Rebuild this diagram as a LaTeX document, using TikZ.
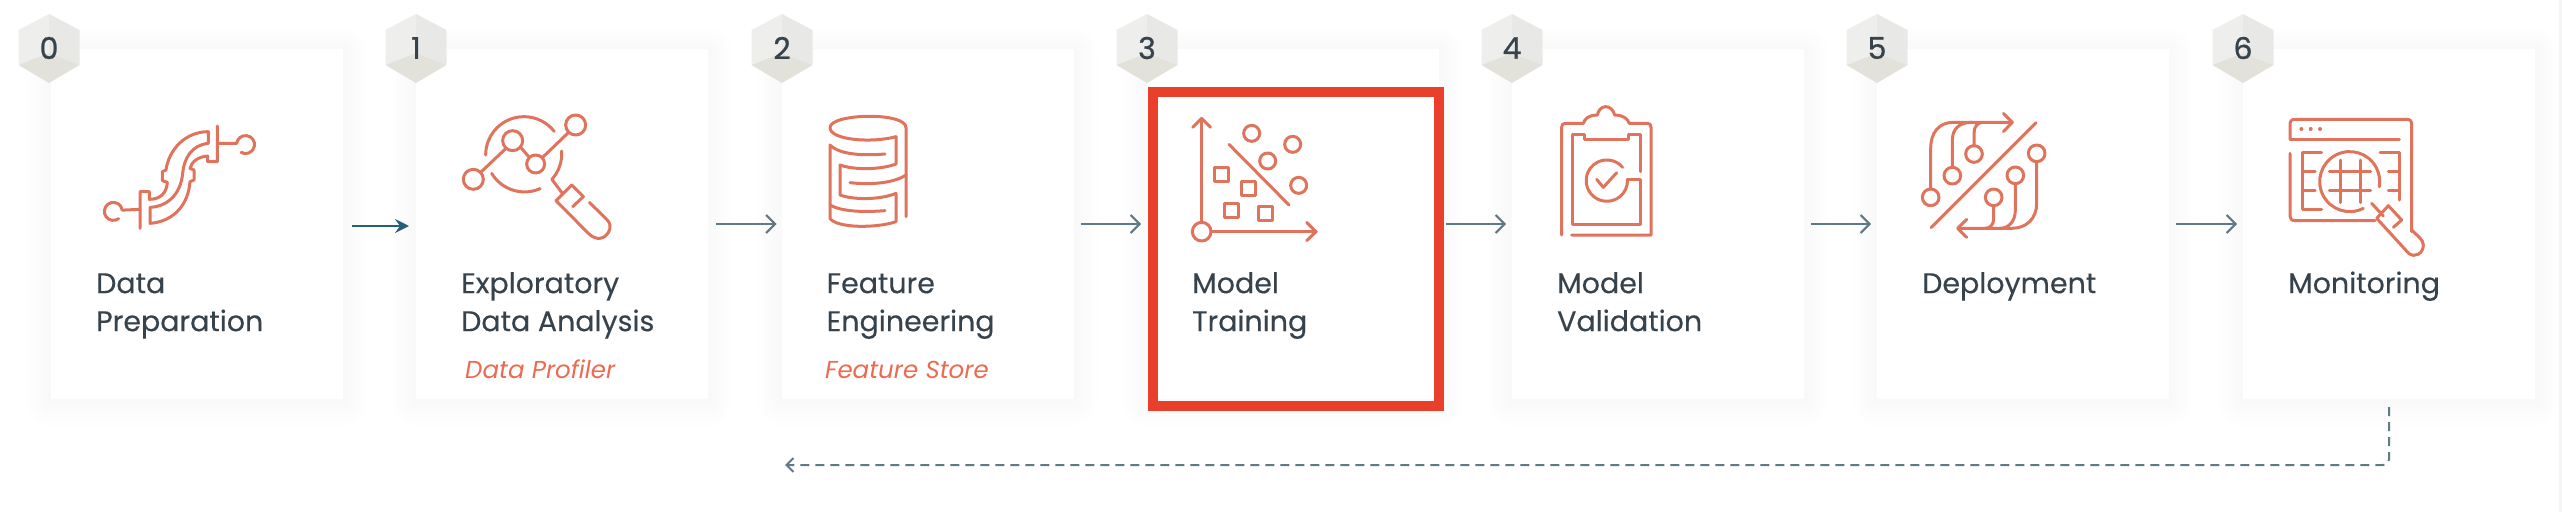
\documentclass[tikz,border=0pt]{standalone}
\usepackage{fontspec}
\usetikzlibrary{arrows.meta,calc}
\setmainfont{Poppins}[FakeBold=0.25]
\newfontfamily\numfont{Poppins}[FakeBold=0.9]
\newfontfamily\italfont{Poppins}
\definecolor{icon}{HTML}{E0735C}
\definecolor{ink}{HTML}{36434D}
\definecolor{sub}{HTML}{EC6A50}
\definecolor{redbox}{HTML}{E8402A}
\definecolor{flow}{HTML}{5F7985}
\definecolor{firstflow}{HTML}{25607B}
\definecolor{hexl}{HTML}{EEEEEC}
\definecolor{hexr}{HTML}{E8E9E7}
\definecolor{hexb}{HTML}{E2E2DB}
\newcommand\firstline{\rule{0pt}{24pt}}
\tikzset{
  card/.style={fill=white,inner sep=0pt,outer sep=0pt,minimum width=292pt,minimum height=350pt,anchor=north west},
  numtext/.style={font=\numfont\fontsize{30}{32}\selectfont,text=ink,inner sep=0pt},
  label/.style={font=\fontsize{28.5}{38}\selectfont,text=ink,align=left,inner sep=0pt,anchor=north west},
  sublabel/.style={font=\italfont\itshape\fontsize{24.5}{30}\selectfont,text=sub,inner sep=0pt,anchor=base west},
  flowline/.style={draw=flow,line width=2pt,-{Straight Barb[length=9pt,width=18pt,line width=2pt]}},
  iconline/.style={draw=icon,line width=3pt,line cap=round,line join=round},
  zoomed/.style={x=0.33333pt,y=-0.33333pt}
}
\begin{document}
\begin{tikzpicture}[x=1pt,y=-1pt]
\useasboundingbox (0,0) rectangle (2562,512);
\fill[white] (0,0) rectangle (2562,512);
\fill[black!4] (2559,0) rectangle (2562,512);
% soft shadows
\foreach \x in {51,416,781.5,1147,1512,1877,2243}{
  \foreach \k in {4,8,...,24}{
    \fill[black!40,opacity=.007,rounded corners=\k pt] (\x-\k,49-\k+3) rectangle (\x+292+\k,399+\k+3);
  }
}
% cards
\node[card] (c0) at (51,49) {};
\node[card] (c1) at (416,49) {};
\node[card] (c2) at (781.5,49) {};
\node[card] (c3) at (1147,49) {};
\node[card] (c4) at (1512,49) {};
\node[card] (c5) at (1877,49) {};
\node[card] (c6) at (2243,49) {};
% numbered hexagons
\foreach \n/\x in {0/49,1/416,2/782,3/1147,4/1512,5/1877,6/2243}{
  \fill[hexl] (\x,14) -- (\x-30.5,30) -- (\x-30.5,65) -- (\x,53) -- cycle;
  \fill[hexr] (\x,14) -- (\x+30.5,30) -- (\x+30.5,65) -- (\x,53) -- cycle;
  \fill[hexb] (\x,53) -- (\x-30.5,65) -- (\x,83) -- (\x+30.5,65) -- cycle;
  \node[numtext] (h\n) at (\x,48) {\n};
}
% labels
\node[label] (t0) at (96,269) {\firstline Data\\Preparation};
\node[label] (t1) at (461,269) {\firstline Exploratory\\Data Analysis};
\node[sublabel] (s1) at (465,378) {Data Profiler};
\node[label] (t2) at (826.5,269) {\firstline Feature\\Engineering};
\node[sublabel] (s2) at (825,378) {Feature Store};
\node[label] (t3) at (1192,269) {\firstline Model\\Training};
\node[label] (t4) at (1557,269) {\firstline Model\\Validation};
\node[label] (t5) at (1922,269) {\firstline Deployment};
\node[label] (t6) at (2288,269) {\firstline Monitoring};
% red highlight
\node[draw=redbox,line width=10pt,inner sep=0pt,outer sep=0pt,minimum width=286pt,minimum height=314pt,anchor=north west] (hl) at (1153,92) {};
% connectors
\draw[draw=firstflow,line width=2pt,-{Stealth[length=14pt,width=14pt,inset=5pt]},shorten <=9pt,shorten >=7pt] ([yshift=-2pt]c0.east) -- ([yshift=-2pt]c1.west);
\draw[flowline,shorten <=8pt,shorten >=5pt] (c1.east) -- (c2.west);
\draw[flowline,shorten <=7pt,shorten >=6pt] (c2.east) -- (c3.west);
\draw[flowline,shorten <=7pt,shorten >=6pt] (c3.east) -- (c4.west);
\draw[flowline,shorten <=7pt,shorten >=6pt] (c4.east) -- (c5.west);
\draw[flowline,shorten <=7pt,shorten >=6pt] (c5.east) -- (c6.west);
\coordinate (backend) at (785,465);
\draw[draw=flow,line width=2pt,dash pattern=on 9pt off 6pt,rounded corners=6pt,-{Straight Barb[length=7pt,width=14pt,line width=2pt]},shorten <=8pt] (c6.south) |- (backend);
% icon 0
\begin{scope}[shift={(60,90)},zoomed,iconline]
\draw (176,386) arc[start angle=54,end angle=352,radius=27] -- (240,358);
\draw (240,415) -- (240,305) -- (268,305) -- (268,328) .. controls (300,328) and (320,310) .. (322,277) -- (307,272) -- (307,245) -- (318,240) .. controls (326,180) and (375,125) .. (445,125) -- (445,160) .. controls (395,165) and (372,205) .. (368,250) .. controls (362,315) and (320,350) .. (270,352) -- (270,400) .. controls (340,395) and (385,345) .. (390,275) -- (402,270) -- (402,240) -- (390,235) .. controls (395,215) and (415,200) .. (443,198) -- (443,215) -- (472,215) -- (472,108);
\draw (472,160) -- (530,160) arc[start angle=188,end angle=480,radius=27];
\end{scope}
% icon 1
\begin{scope}[shift={(430,90)},zoomed,iconline]
\draw (130,268) circle[radius=30];
\draw (248,152) circle[radius=30];
\draw (317,222) circle[radius=27];
\draw (437,105) circle[radius=30];
\draw (152,247) -- (225,178);
\draw (272,172) -- (296,200);
\draw (338,202) -- (415,128);
\draw (167,195) arc[start angle=180,end angle=322,radius=115];
\draw (185,250) arc[start angle=149,end angle=66,radius=115];
\draw (395,183) arc[start angle=-4,end angle=42,radius=115] -- (397,310);
\draw (378,332) -- (425,285) -- (460,320) -- (428,350);
\draw (378,332) -- (475,430) .. controls (500,455) and (525,445) .. (535,428) .. controls (545,410) and (540,398) .. (530,388) -- (478,337);
\end{scope}
% icon 2
\begin{scope}[shift={(800,90)},zoomed,iconline]
\draw (288,140) .. controls (215,160) and (90,150) .. (90,113) .. controls (90,70) and (318,65) .. (318,113) -- (318,380);
\draw (288,140) -- (288,222) .. controls (240,240) and (160,240) .. (120,225) -- (120,315) .. controls (160,330) and (240,330) .. (288,310) -- (288,395) .. controls (230,415) and (110,415) .. (90,385) -- (90,165) .. controls (120,195) and (190,197) .. (255,192);
\draw (90,345) .. controls (125,365) and (190,367) .. (255,362);
\draw (150,278) .. controls (210,285) and (280,280) .. (318,255);
\end{scope}
% icon 3
\begin{scope}[shift={(1170,90)},zoomed,iconline]
\draw (95,425) circle[radius=28];
\draw (95,397) -- (95,85);
\draw (68,112) -- (95,85) -- (122,112);
\draw (123,425) -- (438,425);
\draw (410,397) -- (438,425) -- (410,452);
\draw (177,163) -- (357,345);
\foreach \p in {(245,130),(368,163),(293,213),(386,286)}{\draw \p circle[radius=24];}
\draw (133,231) rectangle (175,273);
\draw (214,275) rectangle (256,317);
\draw (163,340) rectangle (205,382);
\draw (266,350) rectangle (308,392);
\end{scope}
% icon 4
\begin{scope}[shift={(1540,90)},zoomed,iconline]
\draw (65,435) -- (65,112) .. controls (65,104) and (68,100) .. (76,100) -- (130,100) .. controls (135,85) and (145,76) .. (172,75) .. controls (175,60) and (185,50) .. (197,50) .. controls (210,50) and (220,60) .. (224,75) .. controls (250,76) and (262,85) .. (268,100) -- (322,100) .. controls (330,100) and (333,104) .. (333,112) -- (333,435) -- (95,435);
\draw (300,245) -- (300,133) -- (265,133) -- (265,148) -- (132,148) -- (132,133) -- (97,133) -- (97,403) -- (300,403) -- (300,268) -- (262,268);
\draw (248,232) arc[start angle=-40,end angle=-360,radius=62] -- (262,268);
\draw (170,268) -- (190,292) -- (230,248);
\end{scope}
% icon 5
\begin{scope}[shift={(1900,90)},zoomed,iconline]
\draw (310,70) -- (337,97) -- (310,125);
\draw (337,97) -- (160,97) .. controls (115,97) and (92,130) .. (92,175) -- (92,297);
\draw (215,97) .. controls (175,97) and (157,120) .. (157,150) -- (157,232);
\draw (250,97) .. controls (232,97) and (222,110) .. (222,130) -- (222,167);
\foreach \p in {(92,322),(157,257),(222,192),(410,190),(346,256),(281,322)}{\draw \p circle[radius=25];}
\draw (93,413) -- (408,98);
\draw (410,215) -- (410,340) .. controls (410,385) and (380,415) .. (335,415) -- (175,415);
\draw (346,281) -- (346,360) .. controls (346,395) and (325,415) .. (300,415);
\draw (281,347) -- (281,385) .. controls (281,405) and (270,415) .. (255,415);
\draw (200,388) -- (173,415) -- (200,442);
\end{scope}
% icon 6
\begin{scope}[shift={(2260,90)},zoomed,iconline]
\draw (90,147) -- (90,103) .. controls (90,93) and (95,88) .. (105,88) -- (440,88) .. controls (450,88) and (455,93) .. (455,103) -- (455,425);
\draw (90,147) -- (418,147);
\foreach \p in {(124,117),(152,117),(180,117)}{\fill[icon] \p circle[radius=6];}
\draw (90,190) -- (90,375) .. controls (90,387) and (95,392) .. (105,392) -- (345,392);
\draw (185,188) -- (127,188) -- (127,358) -- (185,358);
\draw (127,245) -- (165,245);
\draw (127,300) -- (165,300);
\draw (360,188) -- (418,188) -- (418,330);
\draw (385,245) -- (418,245);
\draw (385,300) -- (418,300);
\draw (310,355) arc[start angle=63,end angle=370,radius=90];
\draw (240,210) -- (240,338);
\draw (300,210) -- (300,338);
\draw (208,245) -- (332,245);
\draw (208,300) -- (332,300);
\draw (335,340) -- (370,378);
\draw (400,412) -- (425,390) -- (385,347) -- (350,385) -- (446,490) .. controls (465,505) and (490,490) .. (490,465) .. controls (490,450) and (475,440) .. (455,420);
\end{scope}
\end{tikzpicture}
\end{document}
